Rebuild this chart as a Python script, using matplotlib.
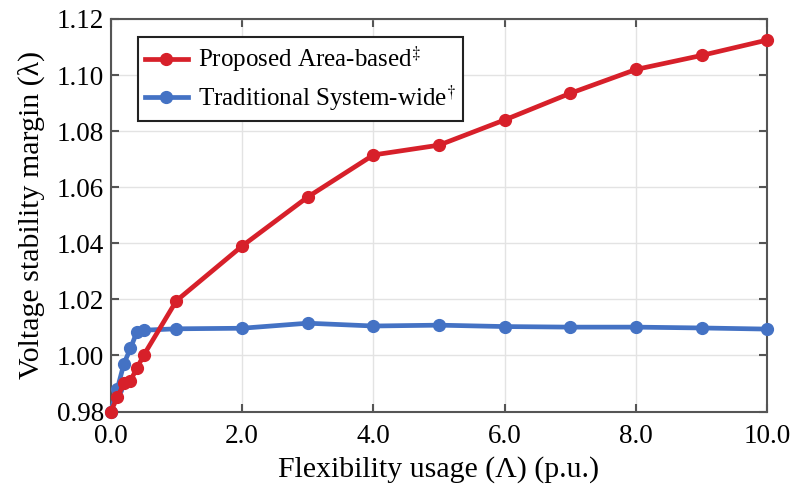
import matplotlib.pyplot as plt

# data
usage = [0, 0.1, 0.2, 0.3, 0.4, 0.5, 1, 2, 3, 4, 5, 6, 7, 8, 9, 10]
area_based = [0.980, 0.985, 0.990, 0.991, 0.9955, 1.000, 1.0195, 1.039,
              1.0565, 1.0715, 1.075, 1.084, 1.0935, 1.102, 1.107, 1.1125]
system_wide = [0.980, 0.988, 0.997, 1.0025, 1.0085, 1.009, 1.0095, 1.0097,
               1.0115, 1.0105, 1.0108, 1.0103, 1.0101, 1.0101, 1.0098, 1.0094]
x_ticks = [0, 2, 4, 6, 8, 10]
y_ticks = [0.98, 1.00, 1.02, 1.04, 1.06, 1.08, 1.10, 1.12]

plt.rcParams['font.family'] = ['Liberation Serif', 'DejaVu Serif']
plt.rcParams['mathtext.fontset'] = 'stix'

fig = plt.figure(figsize=(7.91, 4.87), dpi=100)
ax = fig.add_axes([0.140, 0.155, 0.830, 0.806])

red = '#d7202a'
blue = '#4472c4'

l2, = ax.plot(usage, system_wide, '-o', color=blue, lw=3.4, ms=8.5,
              clip_on=False, zorder=3,
              label='Traditional System-wide$^{\\dagger}$')
l1, = ax.plot(usage, area_based, '-o', color=red, lw=3.4, ms=8.5,
              clip_on=False, zorder=4,
              label='Proposed Area-based$^{\\ddagger}$')

ax.set_xlim(0, 10)
ax.set_ylim(0.98, 1.12)
ax.set_xticks(x_ticks)
ax.set_xticklabels([f'{t:.1f}' for t in x_ticks])
ax.set_yticks(y_ticks)
ax.set_yticklabels([f'{t:.2f}' for t in y_ticks])
ax.grid(True, color='#e3e3e3', lw=1)
ax.set_axisbelow(True)

ax.tick_params(direction='in', length=6, width=1.5, color='#555555',
               labelsize=19.5, top=True, right=True)
ax.tick_params(axis='x', pad=9)
ax.tick_params(axis='y', pad=5)
for s in ax.spines.values():
    s.set_color('#555555')
    s.set_linewidth(1.5)

ax.set_xlabel('Flexibility usage (Λ) (p.u.)', fontsize=21.5, labelpad=5)
ax.set_ylabel('Voltage stability margin (λ)', fontsize=21.5, labelpad=8)

leg = ax.legend(handles=[l1, l2], loc='upper left', bbox_to_anchor=(0.041, 0.954),
                borderaxespad=0, fontsize=18, fancybox=False, framealpha=1,
                edgecolor='#222222', handlelength=1.7, handletextpad=0.4,
                borderpad=0.3, labelspacing=0.35)
leg.get_frame().set_linewidth(1.5)
leg.set_zorder(5)

fig.savefig('out.png', dpi=100)
